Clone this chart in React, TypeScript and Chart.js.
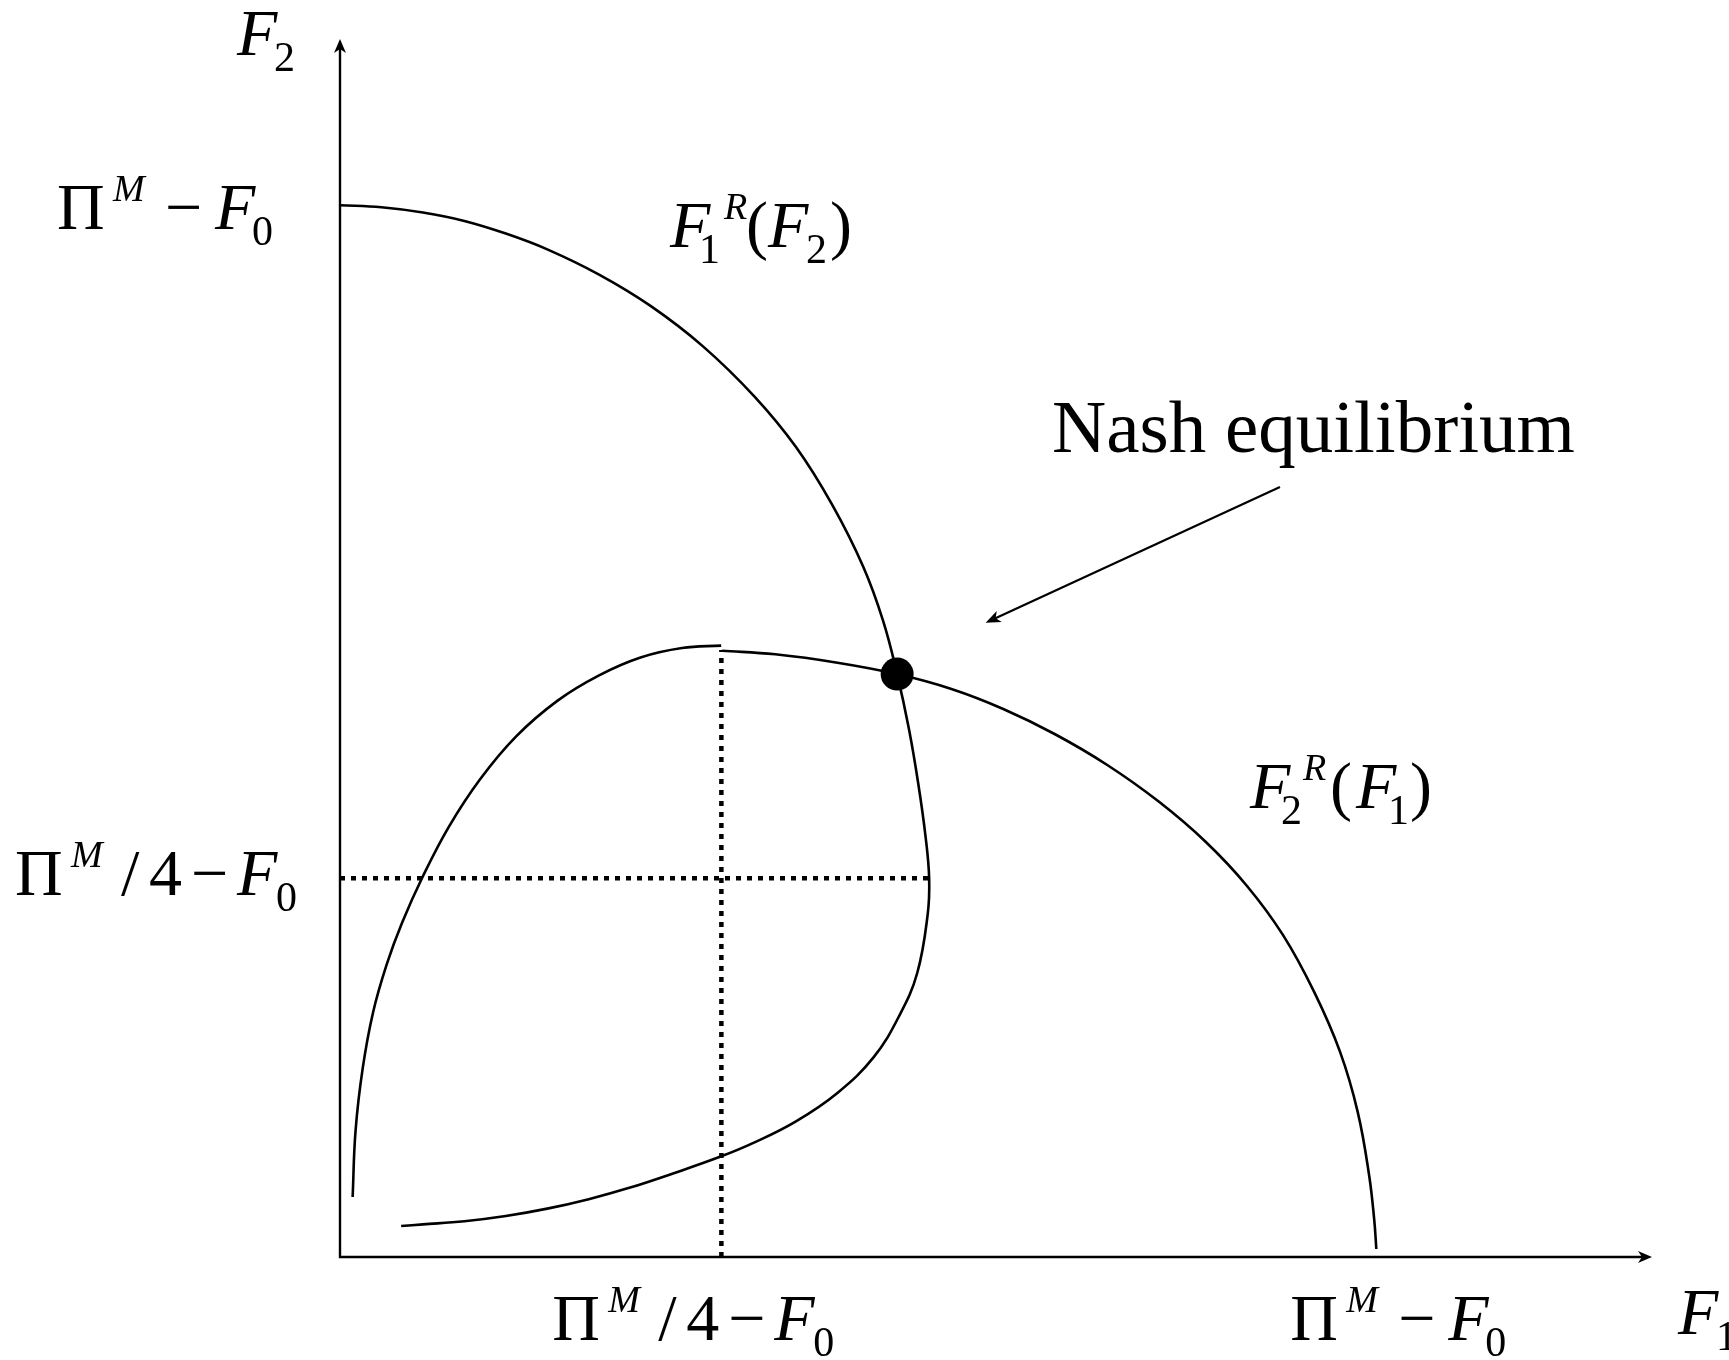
import React, { useEffect, useRef } from "react";
import { Chart, registerables } from "chart.js";

Chart.register(...registerables);

// Axis extents (units: Π^M − F0 = 100 on both axes)
const X_MAX = 126.6;
const Y_MAX = 115.8;

// Tick positions for the labelled values
const X_TICK_VALUES = [36.8, 100];
const Y_TICK_VALUES = [36.0, 100];

// F1^R(F2) reaction curve
const F1R_X = [0, 4, 8, 12, 16, 20, 25, 30, 35, 40, 44, 47.5, 50.5, 52.4, 53.76, 54.9, 55.8, 56.5, 56.85, 56.7, 55.7, 54, 51.5, 48, 44, 40, 36.6, 32, 28, 24, 20, 16, 12, 8, 5.9];
const F1R_Y = [100, 99.8, 99.3, 98.5, 97.3, 95.8, 93.4, 90.4, 86.6, 81.8, 77.0, 71.5, 65.6, 60.5, 55.42, 50.2, 45, 40, 36, 32.5, 27, 23, 19, 15.6, 12.9, 10.9, 9.5, 7.9, 6.6, 5.5, 4.6, 3.9, 3.4, 3.1, 2.95];

// F2^R(F1) reaction curve, left piece (rising part)
const F2R_LEFT_X = [1.22, 1.5, 2.2, 3.2, 4.5, 6, 8, 10.5, 13.5, 17, 21, 25, 29, 33, 36.78];
const F2R_LEFT_Y = [5.7, 12, 18, 23.3, 27.8, 31.8, 36.2, 40.9, 45.4, 49.5, 52.9, 55.3, 57.0, 57.9, 58.13];

// F2^R(F1) reaction curve, right piece (falling part)
const F2R_RIGHT_X = [36.87, 42, 48, 53.76, 59, 64, 69, 74, 79, 83.5, 87.5, 91, 94, 96.5, 98.2, 99.3, 99.8, 100];
const F2R_RIGHT_Y = [57.64, 57.3, 56.5, 55.42, 54.0, 52.1, 49.7, 46.8, 43.3, 39.5, 35.3, 30.6, 25.2, 19.5, 13.8, 7.8, 3.5, 0.76];

// Dotted guide lines
const H_GUIDE_X = [0, 57.1];
const H_GUIDE_Y = [36.0, 36.0];
const V_GUIDE_X = [36.8, 36.8];
const V_GUIDE_Y = [0, 57.7];

// Nash equilibrium point
const NASH_X = [53.76];
const NASH_Y = [55.42];

// Annotation arrow (from label to the equilibrium)
const ARROW_FROM = [90.7, 73.2];
const ARROW_TO = [62.3, 60.3];

const zip = (xs: number[], ys: number[]) => xs.map((x, i) => ({ x, y: ys[i] }));

const FONT = '"Liberation Serif", "Times New Roman", serif';
const MAIN = 66;
const SUP = 38;
const SUB = 42;

type Seg = { t: string; dx: number; lvl?: number; it?: boolean; size?: number };

function drawMath(ctx: CanvasRenderingContext2D, segs: Seg[], x0: number, y0: number) {
  ctx.save();
  ctx.fillStyle = "#000";
  ctx.textAlign = "left";
  ctx.textBaseline = "alphabetic";
  for (const s of segs) {
    const lvl = s.lvl ?? 0;
    const size = s.size ?? (lvl === 0 ? MAIN : lvl === 1 ? SUP : SUB);
    const dy = lvl === 1 ? -28 : lvl === -1 ? 16 : 0;
    ctx.font = `${s.it ? "italic " : ""}${size}px ${FONT}`;
    ctx.fillText(s.t, x0 + s.dx, y0 + dy);
  }
  ctx.restore();
}

function arrowHead(ctx: CanvasRenderingContext2D, x: number, y: number, angle: number, len = 14, half = 6, notch = 4) {
  ctx.save();
  ctx.translate(x, y);
  ctx.rotate(angle);
  ctx.beginPath();
  ctx.moveTo(0, 0);
  ctx.lineTo(-len, -half);
  ctx.lineTo(-len + notch, 0);
  ctx.lineTo(-len, half);
  ctx.closePath();
  ctx.fillStyle = "#000";
  ctx.fill();
  ctx.restore();
}

const PI_M_MINUS_F0: Seg[] = [
  { t: "Π", dx: 0 },
  { t: "M", dx: 56, lvl: 1, it: true },
  { t: "−", dx: 108 },
  { t: "F", dx: 158, it: true },
  { t: "0", dx: 195, lvl: -1 },
];
const PI_M_4_MINUS_F0: Seg[] = [
  { t: "Π", dx: 0 },
  { t: "M", dx: 56, lvl: 1, it: true },
  { t: "/", dx: 106 },
  { t: "4", dx: 134 },
  { t: "−", dx: 176 },
  { t: "F", dx: 222, it: true },
  { t: "0", dx: 261, lvl: -1 },
];

const diagramPlugin = {
  id: "diagram",
  beforeDatasetsDraw(chart: any) {
    const ctx: CanvasRenderingContext2D = chart.ctx;
    const xs = chart.scales.x;
    const ys = chart.scales.y;
    const ox = xs.getPixelForValue(0);
    const oy = ys.getPixelForValue(0);
    const xEnd = xs.getPixelForValue(X_MAX);
    const yEnd = ys.getPixelForValue(Y_MAX);
    ctx.save();
    ctx.strokeStyle = "#000";
    ctx.lineWidth = 2.4;
    ctx.lineCap = "butt";
    ctx.beginPath();
    ctx.moveTo(ox, oy + 1.2);
    ctx.lineTo(ox, yEnd + 6);
    ctx.moveTo(ox - 1.2, oy);
    ctx.lineTo(xEnd - 6, oy);
    ctx.stroke();
    ctx.restore();
    arrowHead(ctx, ox, yEnd, -Math.PI / 2);
    arrowHead(ctx, xEnd, oy, 0);
  },
  afterDraw(chart: any) {
    const ctx: CanvasRenderingContext2D = chart.ctx;
    const xs = chart.scales.x;
    const ys = chart.scales.y;
    const cl = xs.getPixelForValue(0);
    const cb = ys.getPixelForValue(0);

    // Annotation arrow
    const fx = xs.getPixelForValue(ARROW_FROM[0]);
    const fy = ys.getPixelForValue(ARROW_FROM[1]);
    const tx = xs.getPixelForValue(ARROW_TO[0]);
    const ty = ys.getPixelForValue(ARROW_TO[1]);
    const ang = Math.atan2(ty - fy, tx - fx);
    ctx.save();
    ctx.strokeStyle = "#000";
    ctx.lineWidth = 2.2;
    ctx.beginPath();
    ctx.moveTo(fx, fy);
    ctx.lineTo(tx - 9 * Math.cos(ang), ty - 9 * Math.sin(ang));
    ctx.stroke();
    ctx.restore();
    arrowHead(ctx, tx, ty, ang, 15, 6, 4);

    // Tick labels
    drawMath(ctx, PI_M_MINUS_F0, cl - 283, ys.getPixelForValue(Y_TICK_VALUES[1]) + 24);
    drawMath(ctx, PI_M_4_MINUS_F0, cl - 325, ys.getPixelForValue(Y_TICK_VALUES[0]) + 17);
    drawMath(ctx, PI_M_4_MINUS_F0, xs.getPixelForValue(X_TICK_VALUES[0]) - 169, cb + 83);
    drawMath(ctx, PI_M_MINUS_F0, xs.getPixelForValue(X_TICK_VALUES[1]) - 86, cb + 83);

    // Axis titles
    drawMath(ctx, [{ t: "F", dx: 0, it: true }, { t: "2", dx: 37, lvl: -1 }], cl - 103, cb - 1202);
    drawMath(ctx, [{ t: "F", dx: 0, it: true }, { t: "1", dx: 38, lvl: -1 }], cl + 1338, cb + 77);

    // Curve labels
    drawMath(
      ctx,
      [
        { t: "F", dx: 0, it: true },
        { t: "1", dx: 29, lvl: -1 },
        { t: "R", dx: 54, lvl: 1, it: true },
        { t: "(", dx: 76 },
        { t: "F", dx: 98, it: true },
        { t: "2", dx: 136, lvl: -1 },
        { t: ")", dx: 160 },
      ],
      cl + 330,
      cb - 1010
    );
    drawMath(
      ctx,
      [
        { t: "F", dx: 0, it: true },
        { t: "2", dx: 31, lvl: -1 },
        { t: "R", dx: 53, lvl: 1, it: true },
        { t: "(", dx: 80 },
        { t: "F", dx: 106, it: true },
        { t: "1", dx: 138, lvl: -1 },
        { t: ")", dx: 160 },
      ],
      cl + 910,
      cb - 449
    );
    drawMath(ctx, [{ t: "Nash equilibrium", dx: 0, size: 75 }], cl + 712, cb - 805);
  },
};

export default function App() {
  const ref = useRef<HTMLCanvasElement>(null);
  useEffect(() => {
    const canvas = ref.current;
    if (!canvas) return;
    const curve = (data: { x: number; y: number }[]) => ({
      data,
      showLine: true,
      borderColor: "#000",
      borderWidth: 2.6,
      pointRadius: 0,
      tension: 0.4,
      fill: false,
      borderCapStyle: "butt" as const,
    });
    const dotted = (data: { x: number; y: number }[]) => ({
      data,
      showLine: true,
      borderColor: "#000",
      borderWidth: 4.5,
      borderDash: [5, 6],
      pointRadius: 0,
      tension: 0,
      fill: false,
      borderCapStyle: "butt" as const,
    });
    const chart = new Chart(canvas, {
      type: "scatter",
      data: {
        datasets: [
          {
            data: zip(NASH_X, NASH_Y),
            showLine: false,
            pointRadius: 16.5,
            pointBackgroundColor: "#000",
            pointBorderWidth: 0,
            backgroundColor: "#000",
          } as any,
          curve(zip(F1R_X, F1R_Y)),
          curve(zip(F2R_LEFT_X, F2R_LEFT_Y)),
          curve(zip(F2R_RIGHT_X, F2R_RIGHT_Y)),
          dotted(zip(H_GUIDE_X, H_GUIDE_Y)),
          dotted(zip(V_GUIDE_X, V_GUIDE_Y)),
        ],
      },
      options: {
        animation: false,
        responsive: true,
        maintainAspectRatio: false,
        layout: { padding: { left: 340, right: 77, top: 39, bottom: 103 } },
        scales: {
          x: { type: "linear", min: 0, max: X_MAX, display: false },
          y: { type: "linear", min: 0, max: Y_MAX, display: false },
        },
        plugins: {
          legend: { display: false },
          tooltip: { enabled: false },
        },
        elements: { line: { fill: false } },
        clip: false as any,
        events: [],
      },
      plugins: [diagramPlugin],
    });
    return () => chart.destroy();
  }, []);
  return (
    <div style={{ position: "fixed", left: 0, top: 0, width: 1729, height: 1360, background: "#fff" }}>
      <canvas ref={ref} />
    </div>
  );
}
